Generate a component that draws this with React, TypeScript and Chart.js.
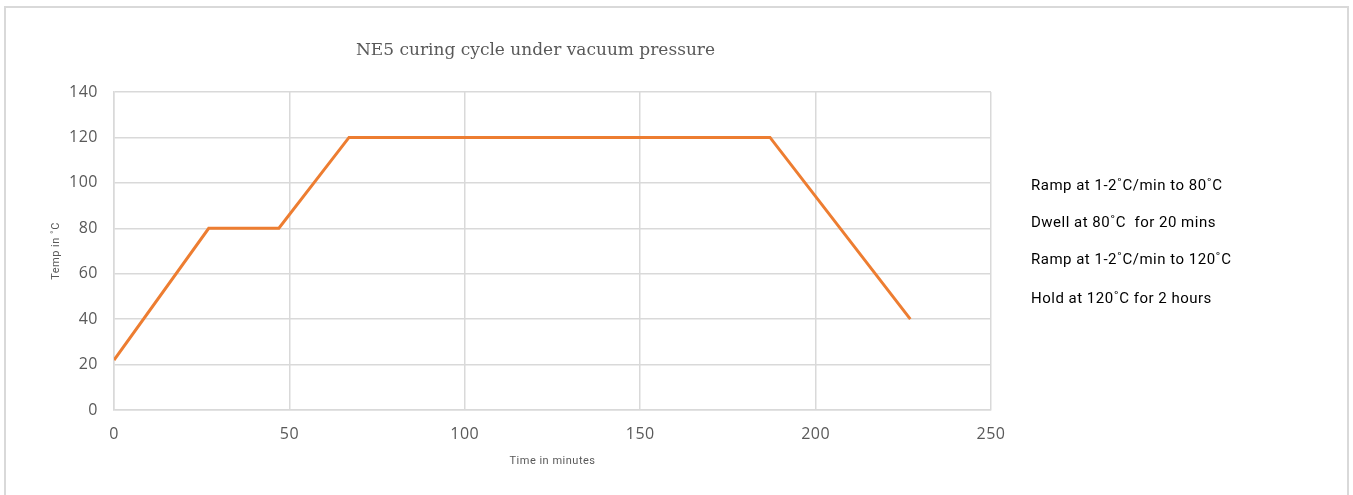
import React, { useEffect, useRef } from "react";
import { Chart, registerables } from "chart.js";

Chart.register(...registerables);

const timeMinutes = [0, 27, 47, 67, 187, 227];
const tempCelsius = [22, 80, 80, 120, 120, 40];
const xTicks = [0, 50, 100, 150, 200, 250];
const yTicks = [0, 20, 40, 60, 80, 100, 120, 140];
const chartTitle = "NE5 curing cycle under vacuum pressure";
const xTitle = "Time in minutes";
const yTitle = "Temp in ˚C";
const notes = [
  "Ramp at 1-2˚C/min to 80˚C",
  "Dwell at 80˚C  for 20 mins",
  "Ramp at 1-2˚C/min to 120˚C",
  "Hold at 120˚C for 2 hours",
];

const textPlugin = {
  id: "textPlugin",
  beforeDraw(chart: any) {
    (chart.ctx as any).letterSpacing = "0.5px";
  },
  afterDraw(chart: any) {
    const ctx = chart.ctx;
    ctx.save();
    (ctx as any).letterSpacing = "0px";
    ctx.fillStyle = "#595959";
    ctx.font = "300 17px 'DejaVu Serif'";
    ctx.textAlign = "center";
    ctx.textBaseline = "middle";
    ctx.fillText(chartTitle, 535.5, 51);
    ctx.fillStyle = "#000000";
    ctx.font = "15px Roboto";
    (ctx as any).letterSpacing = "0.5px";
    ctx.textAlign = "left";
    const ys = [186, 223, 260, 299];
    notes.forEach((t, i) => ctx.fillText(t, 1031, ys[i]));
    ctx.restore();
  },
};

export default function App() {
  const ref = useRef<HTMLCanvasElement>(null);
  useEffect(() => {
    const chart = new Chart(ref.current!, {
      type: "line",
      data: {
        datasets: [
          {
            data: timeMinutes.map((x, i) => ({ x, y: tempCelsius[i] })),
            borderColor: "#ED7D31",
            borderWidth: 3,
            pointRadius: 0,
            tension: 0,
          },
        ],
      },
      options: {
        animation: false,
        responsive: false,
        layout: { padding: { left: 46, right: 362, top: 92, bottom: 23 } },
        plugins: { legend: { display: false }, tooltip: { enabled: false } },
        scales: {
          x: {
            type: "linear",
            min: 0,
            max: 250,
            afterBuildTicks: (s: any) => {
              s.ticks = xTicks.map((v) => ({ value: v }));
            },
            afterFit: (s: any) => {
              s.height = 62;
            },
            grid: { color: "#d9d9d9", lineWidth: 1.5, drawTicks: false },
            border: { color: "#d9d9d9", width: 1.5 },
            ticks: {
              padding: 15,
              color: "#595959",
              font: { family: "'Open Sans'", size: 16 },
            },
            title: {
              display: true,
              text: xTitle,
              color: "#595959",
              font: { family: "Roboto", size: 11 },
            },
          },
          y: {
            min: 0,
            max: 140,
            afterBuildTicks: (s: any) => {
              s.ticks = yTicks.map((v) => ({ value: v }));
            },
            afterFit: (s: any) => {
              s.width = 68;
            },
            grid: { color: "#d9d9d9", lineWidth: 1.5, drawTicks: false },
            border: { color: "#d9d9d9", width: 1.5 },
            ticks: {
              padding: 16,
              color: "#595959",
              font: { family: "'Open Sans'", size: 16 },
            },
            title: {
              display: true,
              text: yTitle,
              color: "#595959",
              font: { family: "Roboto", size: 11 },
            },
          },
        },
      },
      plugins: [textPlugin],
    } as any);
    return () => chart.destroy();
  }, []);

  return (
    <div
      style={{
        position: "absolute",
        left: 0,
        top: 0,
        width: 1353,
        height: 495,
        overflow: "hidden",
        background: "#ffffff",
      }}
    >
      <div
        style={{
          position: "absolute",
          left: 4,
          top: 6,
          width: 1341,
          height: 520,
          border: "2px solid #d9d9d9",
        }}
      />
      <canvas
        ref={ref}
        width={1353}
        height={495}
        style={{ position: "absolute", left: 0, top: 0 }}
      />
    </div>
  );
}
